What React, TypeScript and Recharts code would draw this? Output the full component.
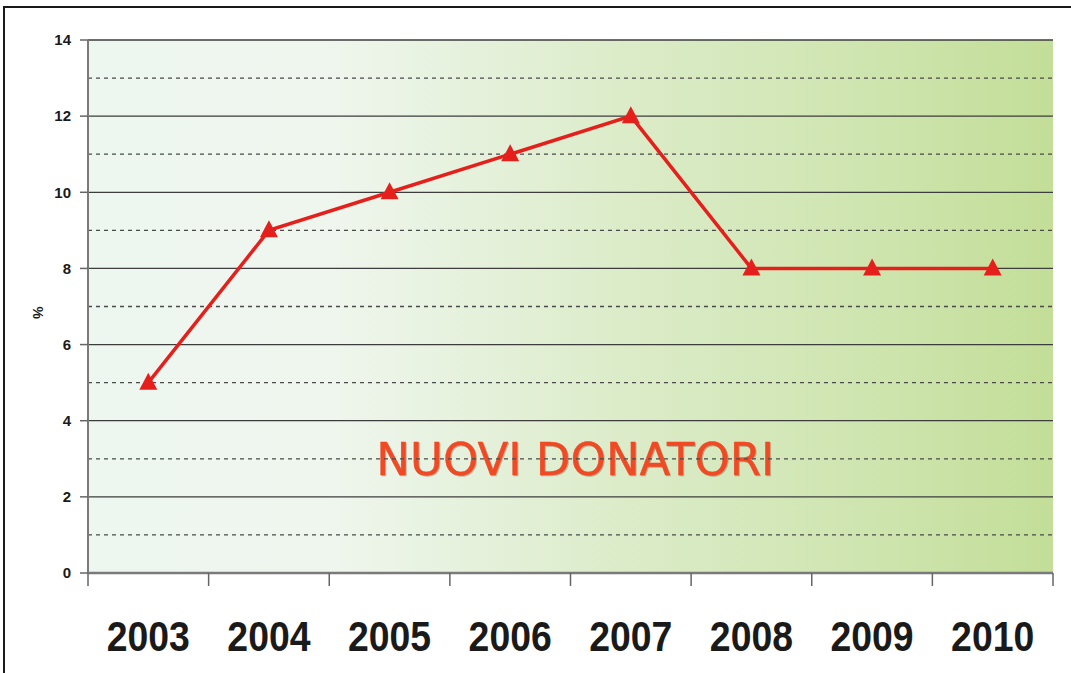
import React from "react";
import {
  LineChart,
  Line,
  XAxis,
  YAxis,
  CartesianGrid,
  ReferenceLine,
  Customized,
} from "recharts";

const years = ["2003", "2004", "2005", "2006", "2007", "2008", "2009", "2010"];
const values = [5, 9, 10, 11, 12, 8, 8, 8];
const yTicks = [0, 2, 4, 6, 8, 10, 12, 14];
const minorLines = [1, 3, 5, 7, 9, 11, 13];
const title = "NUOVI DONATORI";
const yLabel = "%";

const data = years.map((year, i) => ({ x: i + 0.5, year, value: values[i] }));
const boundaryTicks = years.map((_, i) => i).concat([years.length]);
const labelTicks = years.map((_, i) => i + 0.5);

const Triangle = (props: any) => {
  const { cx, cy } = props;
  if (cx == null || cy == null) return null;
  const s = 9;
  return (
    <polygon
      points={`${cx},${cy - s - 1} ${cx - s},${cy + s - 2} ${cx + s},${cy + s - 2}`}
      fill="#e5201c"
    />
  );
};

const EmptyTick = () => <g />;

const YearTick = (props: any) => {
  const { x, y, payload } = props;
  const label = years[Math.round(payload.value - 0.5)];
  return (
    <g transform={`translate(${x},${y + 75}) scale(0.89,1)`}>
      <text
        x={0}
        y={0}
        textAnchor="middle"
        fill="#1a1a1a"
        fontSize={42}
        fontWeight="bold"
        fontFamily="'Liberation Sans', Arial, sans-serif"
      >
        {label}
      </text>
    </g>
  );
};

const Title = (props: any) => {
  const off = props.offset || {};
  const cx = (off.left ?? 88) + (off.width ?? 965) * 0.505;
  return (
    <text
      x={cx}
      y={475}
      textAnchor="middle"
      fontFamily="'DejaVu Sans', sans-serif"
      fontSize={45}
      fill="#f04a25"
      stroke="#f04a25"
      strokeWidth={0.4}
      style={{ filter: "drop-shadow(1px 1px 0.5px rgba(120,60,40,0.35))" }}
    >
      {title}
    </text>
  );
};

export default function App() {
  return (
    <div style={{ position: "absolute", left: 0, top: 0, width: 1071, height: 673, background: "#fff" }}>
      <div
        style={{
          position: "absolute",
          left: 3,
          top: 6,
          width: 1070,
          height: 670,
          borderLeft: "2px solid #1a1a1a",
          borderTop: "2px solid #1a1a1a",
          boxSizing: "border-box",
        }}
      />
      <div style={{ position: "absolute", left: 0, top: 0 }}>
        <LineChart
          width={1071}
          height={673}
          data={data}
          margin={{ top: 40, right: 18, bottom: 20, left: 28 }}
        >
          <defs>
            <linearGradient id="bgGrad" x1="0" y1="0" x2="1" y2="0">
              <stop offset="0%" stopColor="#eef6f1" />
              <stop offset="25%" stopColor="#eff6ee" />
              <stop offset="55%" stopColor="#dcecc9" />
              <stop offset="80%" stopColor="#cfe5b0" />
              <stop offset="100%" stopColor="#c3de98" />
            </linearGradient>
          </defs>
          <CartesianGrid
            vertical={false}
            fill="url(#bgGrad)"
            stroke="#3d3d3d"
            strokeWidth={1.3}
          />
          {minorLines.map((v) => (
            <ReferenceLine
              key={v}
              y={v}
              stroke="#4a4a4a"
              strokeWidth={1.3}
              strokeDasharray="4 4"
            />
          ))}
          <XAxis
            xAxisId="a"
            type="number"
            dataKey="x"
            domain={[0, years.length]}
            ticks={boundaryTicks}
            tick={<EmptyTick />}
            tickSize={13}
            tickLine={{ stroke: "#666", strokeWidth: 1.5 }}
            axisLine={{ stroke: "#7a7a7a", strokeWidth: 2.5 }}
            height={1}
            interval={0}
            allowDataOverflow
          />
          <XAxis
            xAxisId="b"
            type="number"
            dataKey="x"
            domain={[0, years.length]}
            ticks={labelTicks}
            tickLine={false}
            axisLine={false}
            tickSize={0}
            height={79}
            interval={0}
            tick={<YearTick />}
            allowDataOverflow
          />
          <YAxis
            type="number"
            domain={[0, 14]}
            ticks={yTicks}
            width={60}
            tickSize={8}
            tickMargin={9}
            tickLine={{ stroke: "#666", strokeWidth: 1.5 }}
            axisLine={{ stroke: "#7a7a7a", strokeWidth: 2 }}
            tick={{
              fill: "#1a1a1a",
              fontSize: 15,
              fontWeight: "bold",
              fontFamily: "'Liberation Sans', Arial, sans-serif",
            }}
            label={{
              value: yLabel,
              angle: 90,
              position: "insideLeft",
              offset: 10,
              style: { fill: "#1a1a1a", fontSize: 14, fontWeight: "bold", fontFamily: "'Liberation Sans', Arial, sans-serif" },
            }}
          />
          <Line
            xAxisId="a"
            type="linear"
            dataKey="value"
            stroke="#e5201c"
            strokeWidth={3.5}
            dot={<Triangle />}
            activeDot={false}
            isAnimationActive={false}
          />
          <Customized component={Title} />
        </LineChart>
      </div>
    </div>
  );
}
